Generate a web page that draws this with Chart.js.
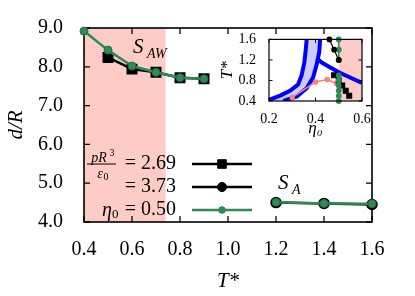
<!DOCTYPE html>
<html>
<head>
<meta charset="utf-8">
<script src="https://cdn.jsdelivr.net/npm/chart.js@4"></script>
<style>
html, body { margin: 0; padding: 0; background: #fff; }
#wrap { position: relative; width: 415px; height: 296px; }
#main { position: absolute; left: 0; top: 0; }
#inset { position: absolute; left: 215px; top: 26px; }
</style>
</head>
<body>
<div id="wrap">
  <canvas id="main" width="415" height="296"></canvas>
  <canvas id="inset" width="160" height="115"></canvas>
</div>
<script>
// main plot: d/R against T*
const xTicks = [0.4, 0.6, 0.8, 1.0, 1.2, 1.4, 1.6];
const yTicks = [4.0, 5.0, 6.0, 7.0, 8.0, 9.0];
const squaresT = [0.5, 0.6, 0.7, 0.8, 0.9];
const squaresD = [8.24, 7.94, 7.86, 7.72, 7.69];
const circlesT = [1.2, 1.4, 1.6];
const circlesD = [4.50, 4.48, 4.45];
const greenT = [0.4, 0.5, 0.6, 0.7, 0.8, 0.9, 1.0, 1.2, 1.4, 1.6];
const greenD = [8.92, 8.43, 8.02, 7.86, 7.72, 7.69, null, 4.51, 4.48, 4.47];
const pressures = ['2.69', '3.73'];
const etaFixed = '0.50';
const pinkTmax = 0.74;

// inset: T* against eta_0
const insetXTicks = [0.2, 0.4, 0.6];
const insetYTicks = [0.4, 0.8, 1.2, 1.6];
const squaresEta = [0.545, 0.53, 0.515, 0.50, 0.48];
const circlesEta = [0.50, 0.48, 0.46];
const bandLeftEta = [0.20, 0.25, 0.29, 0.325, 0.34, 0.352, 0.358, 0.362];
const bandLeftT = [0.42, 0.51, 0.60, 0.72, 0.90, 1.15, 1.40, 1.60];
const bandRightEta = [0.262, 0.32, 0.362, 0.39, 0.405, 0.416, 0.42];
const bandRightT = [0.40, 0.49, 0.65, 0.86, 1.11, 1.35, 1.60];
const spinEta = [0.405, 0.43, 0.50, 0.60];
const spinT = [1.23, 1.14, 0.96, 0.75];
const salmonEta = [0.30, 0.40, 0.45, 0.49];
const salmonT = [0.47, 0.77, 0.82, 0.74];
const insetPinkMin = 0.5;

const serif = '"Liberation Serif", "Times New Roman", serif';
const green = '#2e8b57';
const pink = 'rgba(250,128,114,0.4)';

const pts = (xs, ys) => xs.map((x, i) => ({ x: x, y: ys[i] }));

function frameAndTicks(chart, len, lw) {
  const { ctx, chartArea: a, scales: { x, y } } = chart;
  ctx.save();
  ctx.strokeStyle = '#000';
  ctx.lineWidth = lw;
  ctx.strokeRect(a.left, a.top, a.right - a.left, a.bottom - a.top);
  ctx.lineWidth = lw * 0.8;
  ctx.beginPath();
  x.ticks.forEach(t => {
    const px = x.getPixelForValue(t.value);
    ctx.moveTo(px, a.bottom); ctx.lineTo(px, a.bottom - len);
    ctx.moveTo(px, a.top); ctx.lineTo(px, a.top + len);
  });
  y.ticks.forEach(t => {
    const py = y.getPixelForValue(t.value);
    ctx.moveTo(a.left, py); ctx.lineTo(a.left + len, py);
    ctx.moveTo(a.right, py); ctx.lineTo(a.right - len, py);
  });
  ctx.stroke();
  ctx.restore();
}

const mainDeco = {
  id: 'mainDeco',
  beforeDatasetsDraw(chart) {
    const { ctx, chartArea: a, scales: { x } } = chart;
    ctx.save();
    ctx.fillStyle = pink;
    const x0 = x.getPixelForValue(0.4), x1 = x.getPixelForValue(pinkTmax);
    ctx.fillRect(x0, a.top, x1 - x0, a.bottom - a.top);
    ctx.restore();
    frameAndTicks(chart, 6, 1.6);
  },
  afterDraw(chart) {
    const ctx = chart.ctx;
    ctx.save();
    ctx.fillStyle = '#000';
    // region labels
    ctx.textAlign = 'left';
    ctx.textBaseline = 'alphabetic';
    ctx.font = 'italic 21px ' + serif;
    ctx.fillText('S', 133, 53);
    ctx.fillText('S', 278, 189);
    ctx.font = 'italic 14px ' + serif;
    ctx.fillText('AW', 147, 58);
    ctx.fillText('A', 292, 194);

    // legend
    const rows = [164, 187, 210];
    ctx.textAlign = 'right';
    ctx.textBaseline = 'middle';
    ctx.font = '20px ' + serif;
    ctx.fillText('= ' + pressures[0], 176, rows[0]);
    ctx.fillText('= ' + pressures[1], 176, rows[1]);
    ctx.fillText('= ' + etaFixed, 176, rows[2]);
    ctx.font = 'italic 20px ' + serif;
    ctx.fillText('η', 112, rows[2] + 1);
    ctx.font = '13px ' + serif;
    ctx.textAlign = 'left';
    ctx.fillText('0', 112, rows[2] + 5);
    // fraction pR^3 / eps_0
    ctx.textAlign = 'center';
    ctx.font = 'italic 14px ' + serif;
    ctx.fillText('pR', 99, rows[0] - 6);
    ctx.font = '10px ' + serif;
    ctx.fillText('3', 112, rows[0] - 11);
    ctx.font = 'italic 14px ' + serif;
    ctx.fillText('ε', 100, rows[0] + 10);
    ctx.font = '10px ' + serif;
    ctx.fillText('0', 106, rows[0] + 13);
    ctx.fillRect(87, rows[0] - 0.5, 29, 1);

    const lx0 = 192, lx1 = 252, lm = 222;
    ctx.lineWidth = 2.5;
    ctx.strokeStyle = '#000';
    ctx.beginPath();
    ctx.moveTo(lx0, rows[0]); ctx.lineTo(lx1, rows[0]);
    ctx.moveTo(lx0, rows[1]); ctx.lineTo(lx1, rows[1]);
    ctx.stroke();
    ctx.strokeStyle = green;
    ctx.beginPath();
    ctx.moveTo(lx0, rows[2]); ctx.lineTo(lx1, rows[2]);
    ctx.stroke();
    ctx.lineWidth = 1;
    ctx.fillStyle = '#000';
    ctx.strokeStyle = '#000';
    Chart.helpers.drawPoint(ctx, { pointStyle: 'rect', radius: 6, rotation: 0, borderWidth: 1 }, lm, rows[0]);
    ctx.fill();
    Chart.helpers.drawPoint(ctx, { pointStyle: 'circle', radius: 4.5, rotation: 0, borderWidth: 1 }, lm, rows[1]);
    ctx.fill();
    ctx.fillStyle = green;
    ctx.strokeStyle = green;
    Chart.helpers.drawPoint(ctx, { pointStyle: 'circle', radius: 3.3, rotation: 0, borderWidth: 1 }, lm, rows[2]);
    ctx.fill();
    ctx.restore();
  }
};

new Chart(document.getElementById('main'), {
  type: 'scatter',
  data: {
    datasets: [
      {
        label: 'eta0 = 0.50',
        data: pts(greenT, greenD),
        showLine: true,
        spanGaps: false,
        borderColor: green,
        backgroundColor: green,
        pointBorderColor: '#236b42',
        borderWidth: 2.5,
        pointRadius: 4,
        pointBorderWidth: 1,
        clip: false,
        order: 0
      },
      {
        label: 'pR3/e0 = 3.73',
        data: pts(circlesT, circlesD),
        showLine: true,
        borderColor: '#000',
        backgroundColor: '#000',
        borderWidth: 2.5,
        pointRadius: 4.5,
        clip: false,
        order: 1
      },
      {
        label: 'pR3/e0 = 2.69',
        data: pts(squaresT, squaresD),
        showLine: true,
        borderColor: '#000',
        backgroundColor: '#000',
        borderWidth: 2.5,
        pointStyle: 'rect',
        pointRadius: 6,
        clip: false,
        order: 2
      }
    ]
  },
  options: {
    responsive: false,
    animation: false,
    layout: { padding: { top: 28, right: 43, left: 0, bottom: 0 } },
    plugins: { legend: { display: false }, tooltip: { enabled: false } },
    scales: {
      x: {
        type: 'linear',
        min: 0.4,
        max: 1.6,
        afterFit: s => { s.height = 74; },
        afterBuildTicks: s => { s.ticks = xTicks.map(v => ({ value: v })); },
        ticks: { callback: v => v.toFixed(1), color: '#000', font: { family: serif, size: 20 }, padding: 8, maxRotation: 0 },
        grid: { display: false },
        border: { display: false },
        title: { display: true, text: 'T*', color: '#000', font: { family: serif, size: 21, style: 'italic' }, padding: { top: 0, bottom: 2 } }
      },
      y: {
        type: 'linear',
        min: 4,
        max: 9,
        afterFit: s => { s.width = 84; },
        afterBuildTicks: s => { s.ticks = yTicks.map(v => ({ value: v })); },
        ticks: { callback: v => v.toFixed(1), color: '#000', font: { family: serif, size: 20 }, padding: 13 },
        grid: { display: false },
        border: { display: false },
        title: { display: true, text: 'd/R', color: '#000', font: { family: serif, size: 21, style: 'italic' }, padding: { top: 4, bottom: 0 } }
      }
    }
  },
  plugins: [mainDeco]
});

const insetDeco = {
  id: 'insetDeco',
  beforeDatasetsDraw(chart) {
    const { ctx, chartArea: a, scales: { x } } = chart;
    ctx.save();
    ctx.fillStyle = '#fff';
    ctx.fillRect(a.left, a.top, a.right - a.left, a.bottom - a.top);
    ctx.fillStyle = pink;
    const x0 = x.getPixelForValue(insetPinkMin);
    ctx.fillRect(x0, a.top, a.right - x0, a.bottom - a.top);
    ctx.restore();
  },
  afterDatasetsDraw(chart) {
    frameAndTicks(chart, 3.5, 1.2);
  }
};

const band = pts(bandLeftEta, bandLeftT).concat(pts(bandRightEta, bandRightT).reverse());

new Chart(document.getElementById('inset'), {
  type: 'scatter',
  data: {
    datasets: [
      { data: pts(circlesEta, circlesT), showLine: true, borderColor: '#000', backgroundColor: '#000', borderWidth: 1.2, pointRadius: 2.3, clip: false, order: 0 },
      { data: greenT.map((t, i) => ({ x: greenD[i] == null ? null : 0.5, y: t })), showLine: true, spanGaps: false, borderColor: green, backgroundColor: green, borderWidth: 1.5, pointRadius: 2.2, clip: false, order: 1 },
      { data: pts(squaresEta, squaresT), showLine: true, borderColor: '#000', backgroundColor: '#000', borderWidth: 1.2, pointStyle: 'rect', pointRadius: 3.4, clip: false, order: 2 },
      { data: pts(salmonEta, salmonT), showLine: true, borderColor: 'salmon', backgroundColor: 'salmon', borderWidth: 1.5, pointRadius: 2, clip: 0, order: 3 },
      { data: pts(spinEta, spinT), showLine: true, borderColor: '#0000ff', borderWidth: 4, pointRadius: 0, clip: 0, order: 4 },
      { data: pts(bandLeftEta, bandLeftT), showLine: true, borderColor: '#0000ff', borderWidth: 4, pointRadius: 0, clip: 0, order: 5 },
      { data: pts(bandRightEta, bandRightT), showLine: true, borderColor: '#0000ff', borderWidth: 4, pointRadius: 0, clip: 0, order: 6 },
      { data: band, showLine: true, fill: 'shape', borderWidth: 0, backgroundColor: 'rgba(0,0,255,0.2)', pointRadius: 0, clip: 0, order: 7 }
    ]
  },
  options: {
    responsive: false,
    animation: false,
    layout: { padding: { top: 11, right: 13, left: 0, bottom: 0 } },
    plugins: { legend: { display: false }, tooltip: { enabled: false } },
    scales: {
      x: {
        type: 'linear',
        min: 0.2,
        max: 0.6,
        afterFit: s => { s.height = 40; },
        afterBuildTicks: s => { s.ticks = insetXTicks.map(v => ({ value: v })); },
        ticks: { callback: v => v.toFixed(1), color: '#000', font: { family: serif, size: 14 }, padding: 2, maxRotation: 0 },
        grid: { display: false },
        border: { display: false },
        title: { display: true, text: 'η₀', color: '#000', font: { family: serif, size: 17, style: 'italic' }, padding: { top: 0, bottom: 2 } }
      },
      y: {
        type: 'linear',
        min: 0.4,
        max: 1.6,
        afterFit: s => { s.width = 54; },
        afterBuildTicks: s => { s.ticks = insetYTicks.map(v => ({ value: v })); },
        ticks: { callback: v => v.toFixed(1), color: '#000', font: { family: serif, size: 14 }, padding: 5 },
        grid: { display: false },
        border: { display: false },
        title: { display: true, text: 'T*', color: '#000', font: { family: serif, size: 17, style: 'italic' }, padding: { top: 2, bottom: 0 } }
      }
    }
  },
  plugins: [insetDeco]
});
</script>
</body>
</html>
